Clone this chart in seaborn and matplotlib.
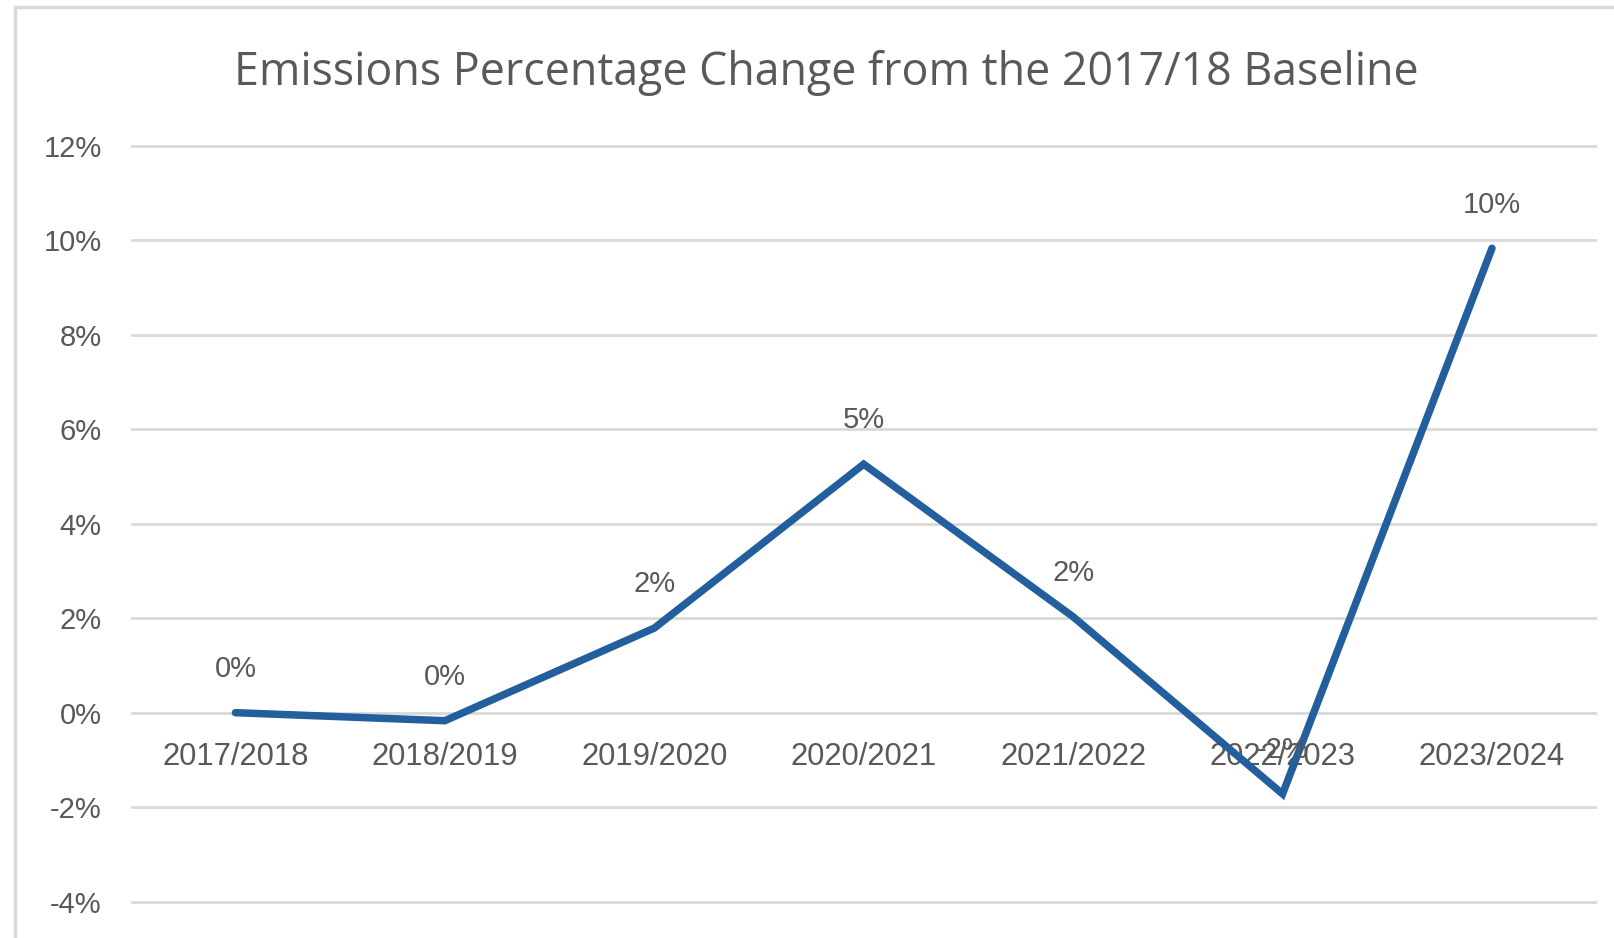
import matplotlib
matplotlib.use("Agg")
import matplotlib.pyplot as plt
import seaborn as sns
import pandas as pd
from matplotlib.patches import Rectangle

categories = ["2017/2018", "2018/2019", "2019/2020", "2020/2021", "2021/2022", "2022/2023", "2023/2024"]
values = [0.0, -0.17, 1.79, 5.26, 2.03, -1.72, 9.83]
data_labels = ["0%", "0%", "2%", "5%", "2%", "-2%", "10%"]
y_ticks = [-4, -2, 0, 2, 4, 6, 8, 10, 12]
title = "Emissions Percentage Change from the 2017/18 Baseline"

sns.set_theme(style="white")
plt.rcParams['font.family'] = ['Liberation Sans', 'DejaVu Sans']

TXT = "#595959"
GRID = "#d9d9d9"
LINE = "#235f9c"

fig = plt.figure(figsize=(16.15, 9.38), dpi=100)
ax = fig.add_axes([130.7/1615, 1 - 911.1/938, (1596.7-130.7)/1615, (911.1-136.3)/938])

df = pd.DataFrame({"period": categories, "change": values})
sns.lineplot(data=df, x="period", y="change", ax=ax, color=LINE, linewidth=5.4,
             sort=False, solid_capstyle="round", solid_joinstyle="miter")

ax.set_xlim(-0.5, len(categories) - 0.5)
ax.set_ylim(-4.2, 12.2)
ax.set_yticks(y_ticks)
ax.set_yticklabels([f"{v}%" for v in y_ticks])
for v in y_ticks:
    ax.axhline(v, color=GRID, linewidth=2, zorder=0)
ax.grid(False)

for s in ["top", "right", "left"]:
    ax.spines[s].set_visible(False)
ax.spines["bottom"].set_position(("data", 0))
ax.spines["bottom"].set_color("none")
ax.set_xticks(range(len(categories)))
ax.set_xticklabels(categories)
ax.tick_params(axis="x", length=0, pad=21, labelsize=22.3, labelcolor=TXT)
ax.tick_params(axis="y", length=0, pad=21, labelsize=21, labelcolor=TXT)
ax.set_xlabel("")
ax.set_ylabel("")

for i, (v, lab) in enumerate(zip(values, data_labels)):
    ax.annotate(lab, (i, v), xytext=(0, 31.5), textcoords="offset points",
                ha="center", va="center", fontsize=21, color=TXT)

fig.text(826/1615, 1 - 73/938, title, ha="center", va="center",
         fontsize=32.2, color=TXT, family=["Open Sans", "DejaVu Sans"])

fig.patches.append(Rectangle((15/1615, -0.05), 1.1, 1 - 7/938 + 0.05, transform=fig.transFigure,
                             fill=False, edgecolor=GRID, linewidth=2.5, zorder=0))

fig.savefig("out.png", dpi=100, facecolor="white")
